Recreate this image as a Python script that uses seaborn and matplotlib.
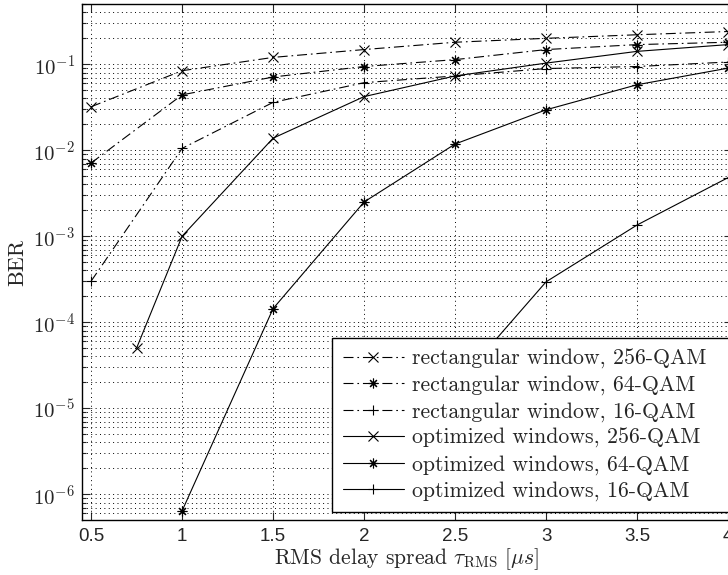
import numpy as np
import pandas as pd
import matplotlib
matplotlib.use("Agg")
import matplotlib.pyplot as plt
import seaborn as sns

sns.set_style("ticks")
plt.rcParams["font.family"] = ["Liberation Sans", "DejaVu Sans"]
plt.rcParams["mathtext.fontset"] = "cm"
plt.rcParams["axes.unicode_minus"] = False

# RMS delay spread values (us)
x_rect = [0.5, 1.0, 1.5, 2.0, 2.5, 3.0, 3.5, 4.0]
rect_256 = [0.032, 0.084, 0.12, 0.148, 0.18, 0.20, 0.22, 0.24]
rect_64 = [0.0071, 0.044, 0.071, 0.094, 0.113, 0.148, 0.169, 0.18]
rect_16 = [3.0e-4, 0.0105, 0.036, 0.061, 0.073, 0.089, 0.094, 0.106]

x_opt256 = [0.75, 1.0, 1.5, 2.0, 2.5, 3.0, 3.5, 4.0]
opt_256 = [5.0e-5, 1.0e-3, 0.0138, 0.042, 0.073, 0.103, 0.141, 0.169]
x_opt64 = [1.0, 1.5, 2.0, 2.5, 3.0, 3.5, 4.0]
opt_64 = [6.4e-7, 1.44e-4, 2.5e-3, 0.0118, 0.0295, 0.0577, 0.090]
x_opt16 = [2.5, 3.0, 3.5, 4.0]
opt_16 = [1.8e-5, 2.95e-4, 1.35e-3, 4.8e-3]

labels = ["rectangular window, 256-QAM", "rectangular window, 64-QAM",
          "rectangular window, 16-QAM", "optimized windows, 256-QAM",
          "optimized windows, 64-QAM", "optimized windows, 16-QAM"]

series = [(x_rect, rect_256), (x_rect, rect_64), (x_rect, rect_16),
          (x_opt256, opt_256), (x_opt64, opt_64), (x_opt16, opt_16)]
asterisk = (8, 2, 0)
markers = ["x", asterisk, "+", "x", asterisk, "+"]
dashdot = (0, (9, 3.5, 1.5, 3.5))
styles = [dashdot] * 3 + ["-"] * 3

fig = plt.figure(figsize=(7.28, 5.75), dpi=100)
ax = fig.add_axes([82 / 728, 55 / 575, 650 / 728, 516 / 575])

for (xs, ys), lab, mk, ls in zip(series, labels, markers, styles):
    df = pd.DataFrame({"tau": xs, "ber": ys})
    sns.lineplot(data=df, x="tau", y="ber", ax=ax, color="k", lw=0.8,
                 linestyle=ls, marker=mk, markersize=7,
                 markeredgecolor="k", markerfacecolor="none",
                 markeredgewidth=0.8, label=lab)

ax.set_yscale("log")
ax.set_xlim(0.45, 0.45 + 650 / 182)
ax.set_ylim(10 ** -6.3, 10 ** -0.3)
ax.set_xticks([0.5, 1, 1.5, 2, 2.5, 3, 3.5, 4])
ax.set_xticklabels(["0.5", "1", "1.5", "2", "2.5", "3", "3.5", "4"])
ax.set_yticks([10.0 ** k for k in range(-6, 0)])
ax.set_yticklabels([r"$\mathsf{10^{%d}}$" % k for k in range(-6, 0)])

ax.grid(True, which="major", axis="x", color="k", lw=0.7, ls=(0, (1, 3.5)))
ax.grid(True, which="both", axis="y", color="k", lw=0.7, ls=(0, (1, 3.5)))
ax.tick_params(which="both", direction="in", top=True, right=True, width=0.8)
ax.tick_params(axis="x", which="major", labelsize=13.5, pad=6)
ax.tick_params(axis="y", which="major", labelsize=15, pad=5)
ax.tick_params(which="major", length=6)
ax.tick_params(which="minor", length=3)
for s in ax.spines.values():
    s.set_color("k")
    s.set_linewidth(1.0)

ax.set_xlabel(r"RMS delay spread $\tau_{\mathrm{RMS}}$ $[\mu s]$",
              fontfamily="cmr10", fontsize=15.5, labelpad=1)
ax.set_ylabel("BER", fontfamily="cmr10", fontsize=16, labelpad=4)

# legend box starts at x=332px and runs past the right edge, as in the original
handles, _ = ax.get_legend_handles_labels()
leg = ax.legend(handles, labels, loc="lower left", mode="expand",
                bbox_to_anchor=((332 - 82) / 650, 8 / 516, 1.0, 0.3),
                borderaxespad=0,
                prop={"family": "cmr10", "size": 15.7}, frameon=True,
                fancybox=False, framealpha=1, edgecolor="k",
                handlelength=2.8, handletextpad=0.37, labelspacing=0.3,
                borderpad=0.5)
leg.get_frame().set_linewidth(1.0)

fig.savefig("out.png", dpi=100)
